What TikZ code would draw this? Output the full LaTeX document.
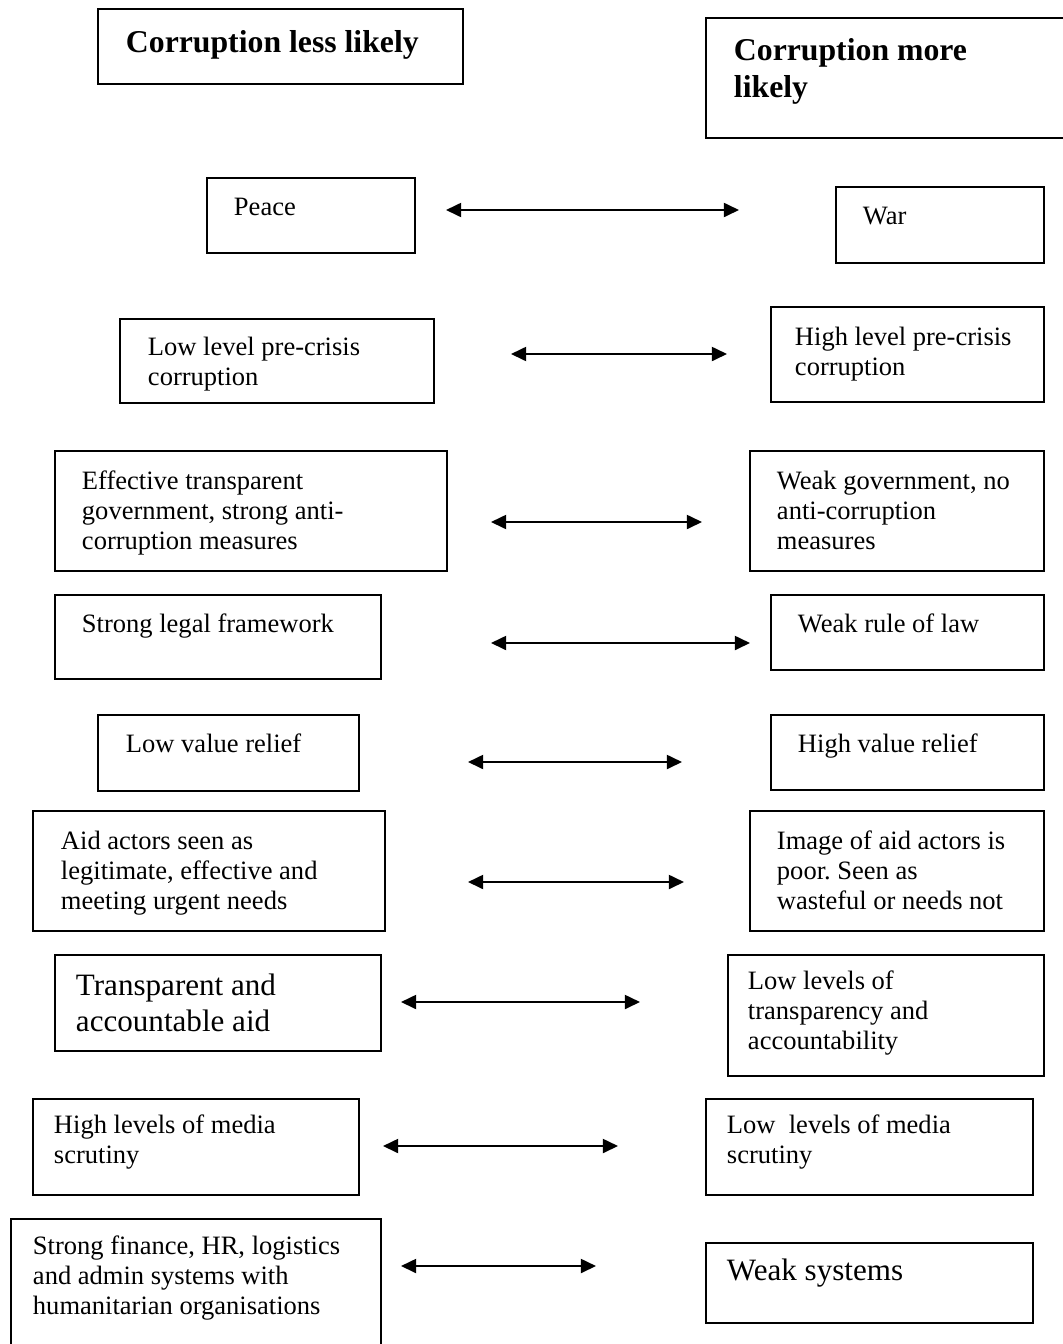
\documentclass[tikz,border=0pt]{standalone}
\usepackage{fontspec}
\setmainfont{Liberation Serif}
\frenchspacing
\usetikzlibrary{arrows.meta}

\tikzset{corruptionBox/.style={
    draw=black,
    line width=0.9pt,
    anchor=north west,
    inner ysep=0pt,
    align=left,
    execute at begin node={\spaceskip=0pt\xspaceskip=0pt},
    font=\fontsize{12.2}{13.8}\selectfont,
  }
}
\tikzset{corruptionBoxSize/.code n args={4}{%
    \pgfmathsetlengthmacro\cbTextWidth{(#1-2*#3)*0.46pt}%
    \pgfmathsetlengthmacro\cbPad{#3*0.46pt}%
    \pgfmathsetlengthmacro\cbTop{#4*0.46pt}%
    \pgfmathsetlengthmacro\cbBottom{(#2-#4)*0.46pt}%
    \pgfkeysalso{text width=\cbTextWidth, inner xsep=\cbPad,
      text height=\cbTop, text depth=\cbBottom}%
  }
}
\tikzset{corruptionHead/.style={
    font=\fontsize{14.6}{17}\selectfont\bfseries,
  }
}
\tikzset{corruptionLarge/.style={
    font=\fontsize{14.3}{16.5}\selectfont,
  }
}
\tikzset{pairArrow/.style={
    <->,
    >={Triangle[length=7pt,width=6.5pt]},
    line width=0.9pt,
    black,
  }
}

\begin{document}
\begin{tikzpicture}[x=0.46pt, y=-0.46pt]
  \useasboundingbox (0,0) rectangle (1063,1344);
  \clip (0,0) rectangle (1063,1344);

  % headings
  \node [corruptionBox, corruptionHead, corruptionBoxSize={365}{75}{28}{44}] (less)
  at (97,8) {Corruption less likely};
  \node [corruptionBox, corruptionHead, corruptionBoxSize={380}{120}{28}{43}] (more)
  at (705,17) {Corruption more\\likely};

  % left column
  \node [corruptionBox, corruptionBoxSize={208}{75}{27}{38}] (peace)
  at (206,177) {Peace};
  \node [corruptionBox, corruptionBoxSize={314}{84}{28}{37}] (lowPre)
  at (119,318) {Low level pre-crisis\\corruption};
  \node [corruptionBox, corruptionBoxSize={392}{120}{27}{39}] (effGov)
  at (54,450) {Effective transparent\\government, strong anti-\\corruption measures};
  \node [corruptionBox, corruptionBoxSize={326}{84}{27}{38}] (strongLaw)
  at (54,594) {Strong legal framework};
  \node [corruptionBox, corruptionBoxSize={261}{76}{28}{38}] (lowValue)
  at (97,714) {Low value relief};
  \node [corruptionBox, corruptionBoxSize={352}{120}{28}{39}] (aidGood)
  at (32,810) {Aid actors seen as\\legitimate, effective and\\meeting urgent needs};
  \node [corruptionBox, corruptionLarge, corruptionBoxSize={326}{96}{21}{41}] (transAid)
  at (54,954) {Transparent and\\accountable aid};
  \node [corruptionBox, corruptionBoxSize={326}{96}{21}{35}] (mediaHigh)
  at (32,1098) {High levels of media\\scrutiny};
  \node [corruptionBox, corruptionBoxSize={370}{140}{22}{36}] (sysStrong)
  at (10,1218) {Strong finance, HR, logistics\\and admin systems with\\humanitarian organisations};

  % right column
  \node [corruptionBox, corruptionBoxSize={208}{76}{27}{38}] (war)
  at (835,186) {War};
  \node [corruptionBox, corruptionBoxSize={273}{95}{24}{39}] (highPre)
  at (770,306) {High level pre-crisis\\corruption};
  \node [corruptionBox, corruptionBoxSize={294}{120}{27}{39}] (weakGov)
  at (749,450) {Weak government, no\\anti-corruption\\measures};
  \node [corruptionBox, corruptionBoxSize={273}{75}{27}{38}] (weakLaw)
  at (770,594) {Weak rule of law};
  \node [corruptionBox, corruptionBoxSize={273}{75}{27}{38}] (highValue)
  at (770,714) {High value relief};
  \node [corruptionBox, corruptionBoxSize={294}{120}{27}{39}] (aidPoor)
  at (749,810) {Image of aid actors is\\poor. Seen as\\wasteful or needs not};
  \node [corruptionBox, corruptionBoxSize={316}{121}{20}{35}] (transLow)
  at (727,954) {Low levels of\\transparency and\\accountability};
  \node [corruptionBox, corruptionBoxSize={327}{96}{21}{35}] (mediaLow)
  at (705,1098) {Low\ \ levels of media\\scrutiny};
  \node [corruptionBox, corruptionLarge, corruptionBoxSize={327}{80}{21}{38}] (sysWeak)
  at (705,1242) {Weak systems};

  % arrows between the pairs
  \foreach \pair/\ypos/\xl/\xr in {peace/210/446/739, pre/354/511/727,
      gov/522/491/702, law/643/491/750, value/762/468/682, aid/882/468/684,
      trans/1002/401/640, media/1146/383/618, sys/1266/401/596} {
    \coordinate (\pair L) at (\xl,\ypos);
    \coordinate (\pair R) at (\xr,\ypos);
    \draw[pairArrow] (\pair L) -- (\pair R);
  }
\end{tikzpicture}
\end{document}
